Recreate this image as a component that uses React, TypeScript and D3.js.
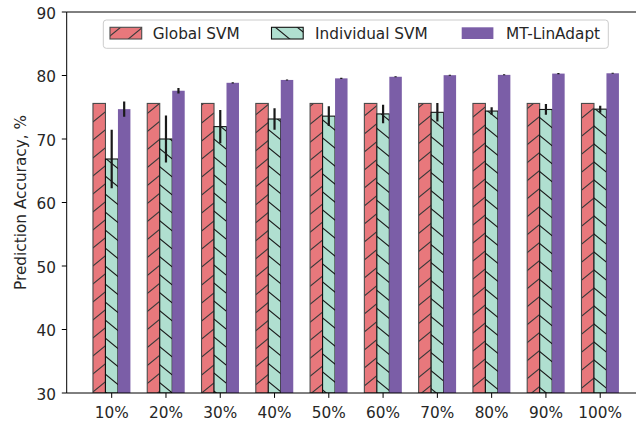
import React from "react";
import * as d3 from "d3";

const categories = ["10%", "20%", "30%", "40%", "50%", "60%", "70%", "80%", "90%", "100%"];
const seriesNames = ["Global SVM", "Individual SVM", "MT-LinAdapt"];
const globalSVM = [75.6, 75.6, 75.6, 75.6, 75.6, 75.6, 75.6, 75.6, 75.6, 75.6];
const individualSVM = [66.85, 70.0, 71.95, 73.15, 73.6, 73.95, 74.2, 74.4, 74.65, 74.7];
const individualErr = [4.6, 3.7, 2.6, 1.7, 1.55, 1.45, 1.45, 0.6, 0.85, 0.55];
const mtLinAdapt = [74.7, 77.6, 78.85, 79.3, 79.55, 79.8, 80.05, 80.1, 80.3, 80.35];
const mtErr = [1.2, 0.45, 0.1, 0, 0.1, 0, 0, 0, 0.1, 0];
const yTicks = [30, 40, 50, 60, 70, 80, 90];

const W = 636;
const H = 426;
const FONT = "DejaVu Sans";
const FS = 15.3;

const barW = 0.23;
const x = d3.scaleLinear().domain([-0.829, 9.829]).range([66.7, 645.2]);
const y = d3.scaleLinear().domain([30, 90]).range([393, 12]);

const fills = ["#e8787c", "#b0dfd0", "#7b5ea7"];
const edges = ["#4a4a4a", "#111111", "#7b5ea7"];
const patterns = ["url(#hatchFwd)", "url(#hatchBack)", "#7b5ea7"];

export default function App() {
  const series = [
    { vals: globalSVM, err: null as number[] | null },
    { vals: individualSVM, err: individualErr },
    { vals: mtLinAdapt, err: mtErr },
  ];
  const pxW = x(barW) - x(0);
  const legendItems = [
    { px: 110, tx: 152.7 },
    { px: 271.5, tx: 315 },
    { px: 461.7, tx: 506 },
  ];
  return (
    <svg width={W} height={H} style={{ position: "absolute", left: 0, top: 0 }} fontFamily={FONT}>
      <defs>
        <pattern id="hatchFwd" patternUnits="userSpaceOnUse" width={22} height={18}>
          <rect width={22} height={18} fill={fills[0]} />
          <path d="M0,18 L22,0 M-5,4 L5,-4 M17,22 L27,14" stroke="#3a3a3a" strokeWidth={1.1} />
        </pattern>
        <pattern id="hatchBack" patternUnits="userSpaceOnUse" width={22} height={18}>
          <rect width={22} height={18} fill={fills[1]} />
          <path d="M0,0 L22,18 M-5,14 L5,22 M17,-4 L27,4" stroke="#1a1a1a" strokeWidth={1.1} />
        </pattern>
        <clipPath id="plotClip">
          <rect x={66.7} y={12} width={W - 66.7} height={381} />
        </clipPath>
      </defs>
      <rect width={W} height={H} fill="#ffffff" />
      <g clipPath="url(#plotClip)">
        {series.map((s, si) =>
          s.vals.map((v, i) => {
            const cx = x(i + (si - 1) * barW);
            const x0 = cx - pxW / 2;
            return (
              <rect
                key={`b${si}-${i}`}
                x={x0}
                y={y(v)}
                width={pxW}
                height={y(30) - y(v)}
                fill={patterns[si]}
                stroke={edges[si]}
                strokeWidth={si === 2 ? 0 : 1.1}
              />
            );
          })
        )}
        {series.map((s, si) =>
          s.err
            ? s.vals.map((v, i) => {
                const e = s.err![i];
                const cx = x(i + (si - 1) * barW);
                const h = Math.max(y(v - e) - y(v + e), 1);
                return (
                  <line
                    key={`e${si}-${i}`}
                    x1={cx}
                    x2={cx}
                    y1={y(v) + h / 2}
                    y2={y(v) - h / 2}
                    stroke="#1a1a1a"
                    strokeWidth={2.2}
                  />
                );
              })
            : null
        )}
      </g>
      {/* spines */}
      <line x1={66.7} x2={66.7} y1={12} y2={393} stroke="#000" strokeWidth={1} />
      <line x1={66.7} x2={W} y1={393} y2={393} stroke="#000" strokeWidth={1} />
      <line x1={66.7} x2={W} y1={12} y2={12} stroke="#000" strokeWidth={1} />
      {/* y ticks */}
      {yTicks.map((t) => (
        <g key={`yt${t}`}>
          <line x1={61.8} x2={66.7} y1={y(t)} y2={y(t)} stroke="#000" strokeWidth={1} />
          <text x={56} y={y(t) + 6.5} textAnchor="end" fontSize={FS} fill="#262626">
            {t}
          </text>
        </g>
      ))}
      {/* x ticks */}
      {categories.map((c, i) => (
        <g key={`xt${i}`}>
          <line x1={x(i)} x2={x(i)} y1={393} y2={397.9} stroke="#000" strokeWidth={1} />
          <text x={x(i)} y={418} textAnchor="middle" fontSize={FS} fill="#262626">
            {c}
          </text>
        </g>
      ))}
      <text
        transform={`translate(25.5,202.5) rotate(-90)`}
        textAnchor="middle"
        fontSize={FS}
        fill="#262626"
      >
        Prediction Accuracy, %
      </text>
      {/* legend */}
      <rect x={103.3} y={20} width={505} height={28.3} rx={3} fill="#ffffff" fillOpacity={0.8} stroke="#cccccc" strokeWidth={1} />
      {legendItems.map((l, si) => (
        <g key={`lg${si}`}>
          <rect
            x={l.px}
            y={27.3}
            width={31.7}
            height={11.7}
            fill={patterns[si]}
            stroke={edges[si]}
            strokeWidth={si === 2 ? 0 : 1.1}
          />
          <text x={l.tx} y={38.8} fontSize={FS} fill="#262626">
            {seriesNames[si]}
          </text>
        </g>
      ))}
    </svg>
  );
}
